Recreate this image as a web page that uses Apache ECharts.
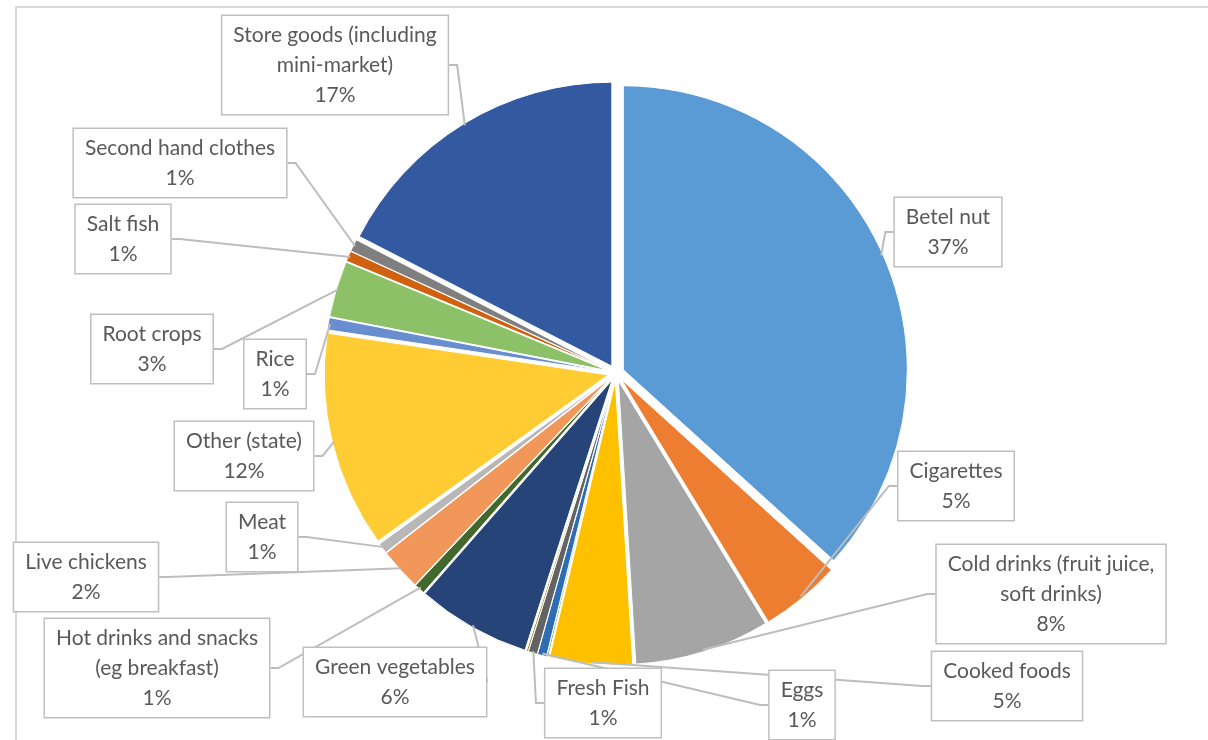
<!DOCTYPE html>
<html>
<head>
<meta charset="utf-8">
<title>Market spending by item</title>
<script src="https://cdn.jsdelivr.net/npm/echarts@6/dist/echarts.min.js"></script>
<style>
  html, body { margin: 0; padding: 0; background: #fff; }
  #chart { width: 1208px; height: 740px; }
</style>
</head>
<body>
<div id="chart"></div>
<script>
// Spending categories, clockwise from 12 o'clock ('' = unlabelled sliver)
const categories = [
  'Betel nut',
  'Cigarettes',
  'Cold drinks (fruit juice,\nsoft drinks)',
  'Cooked foods',
  '',
  'Eggs',
  'Fresh Fish',
  '',
  'Green vegetables',
  'Hot drinks and snacks\n(eg breakfast)',
  'Live chickens',
  'Meat',
  'Other (state)',
  'Rice',
  'Root crops',
  'Salt fish',
  'Second hand clothes',
  'Store goods (including\nmini-market)'
];

// Share of spending (%)
const shares = [36.72, 4.6, 7.7, 4.7, 0.1, 0.52, 0.52, 0.1, 6.49, 0.6, 2.4, 0.6, 12.3, 0.7, 3.2, 0.6, 0.7, 17.45];

// Slice colours
const sliceColors = [
  '#5B9BD5', '#ED7D31', '#A5A5A5', '#FFC000', '#70AD47', '#2E6DB4',
  '#636363', '#997300', '#264478', '#43682B', '#F1975A', '#B7B7B7',
  '#FFCD33', '#698ED0', '#8CC168', '#D0620F', '#7F7F7F', '#335AA1'
];

// Callout box centres (px)
const calloutCentres = [
  [948, 232], [956, 486], [1051, 594], [1007, 686], null, [802, 705],
  [603, 703], null, [395, 682], [157, 668], [86, 577], [262, 537],
  [244, 456], [275, 374], [152, 349], [123, 239], [180, 163], [335, 65]
];

const PIE_CENTER = [616, 373];
const PIE_RADIUS = 284;
const EXPLODE = 8;

const chart = echarts.init(document.getElementById('chart'), null, { renderer: 'canvas' });

// Exploded slices (every slice pulled out from the centre)
const sliceData = categories.map((name, i) => ({
  name: name,
  value: shares[i],
  selected: true,
  itemStyle: { color: sliceColors[i] }
}));

// Invisible twin pie that carries the callouts and leader lines
const calloutData = categories.map((name, i) => {
  const hasLabel = name !== '';
  return {
    name: name,
    value: shares[i],
    label: { show: hasLabel },
    labelLine: { show: hasLabel }
  };
});

chart.setOption({
  animation: false,
  backgroundColor: '#ffffff',
  graphic: [{
    type: 'rect',
    z: -1,
    silent: true,
    shape: { x: 16, y: 7, width: 1260, height: 800 },
    style: { fill: 'none', stroke: '#d9d9d9', lineWidth: 2 }
  }],
  series: [{
    type: 'pie',
    center: PIE_CENTER,
    radius: PIE_RADIUS,
    startAngle: 90,
    clockwise: true,
    selectedMode: 'multiple',
    selectedOffset: EXPLODE,
    emphasis: { disabled: true },
    itemStyle: { borderColor: '#ffffff', borderWidth: 1 },
    label: { show: false },
    labelLine: { show: false },
    data: sliceData
  }, {
    type: 'pie',
    center: PIE_CENTER,
    radius: PIE_RADIUS + EXPLODE - 2,
    startAngle: 90,
    clockwise: true,
    silent: true,
    z: 3,
    selectedMode: false,
    avoidLabelOverlap: false,
    emphasis: { disabled: true },
    itemStyle: { color: 'rgba(0,0,0,0)', borderWidth: 0 },
    label: {
      show: true,
      formatter: p => p.name + '\n' + Math.round(p.percent) + '%',
      color: '#595959',
      fontFamily: 'Lato, "Open Sans", sans-serif',
      fontSize: 21,
      lineHeight: 30,
      align: 'center',
      backgroundColor: '#ffffff',
      borderColor: '#bfbfbf',
      borderWidth: 1.5,
      padding: [5, 11, 3, 11]
    },
    labelLine: {
      show: true,
      length: 10,
      length2: 8,
      lineStyle: { color: '#bdbdbd', width: 2 }
    },
    labelLayout: params => {
      const c = calloutCentres[params.dataIndex];
      if (!c) return {};
      return { x: c[0], y: c[1], align: 'center', verticalAlign: 'middle' };
    },
    data: calloutData
  }]
});
</script>
</body>
</html>
